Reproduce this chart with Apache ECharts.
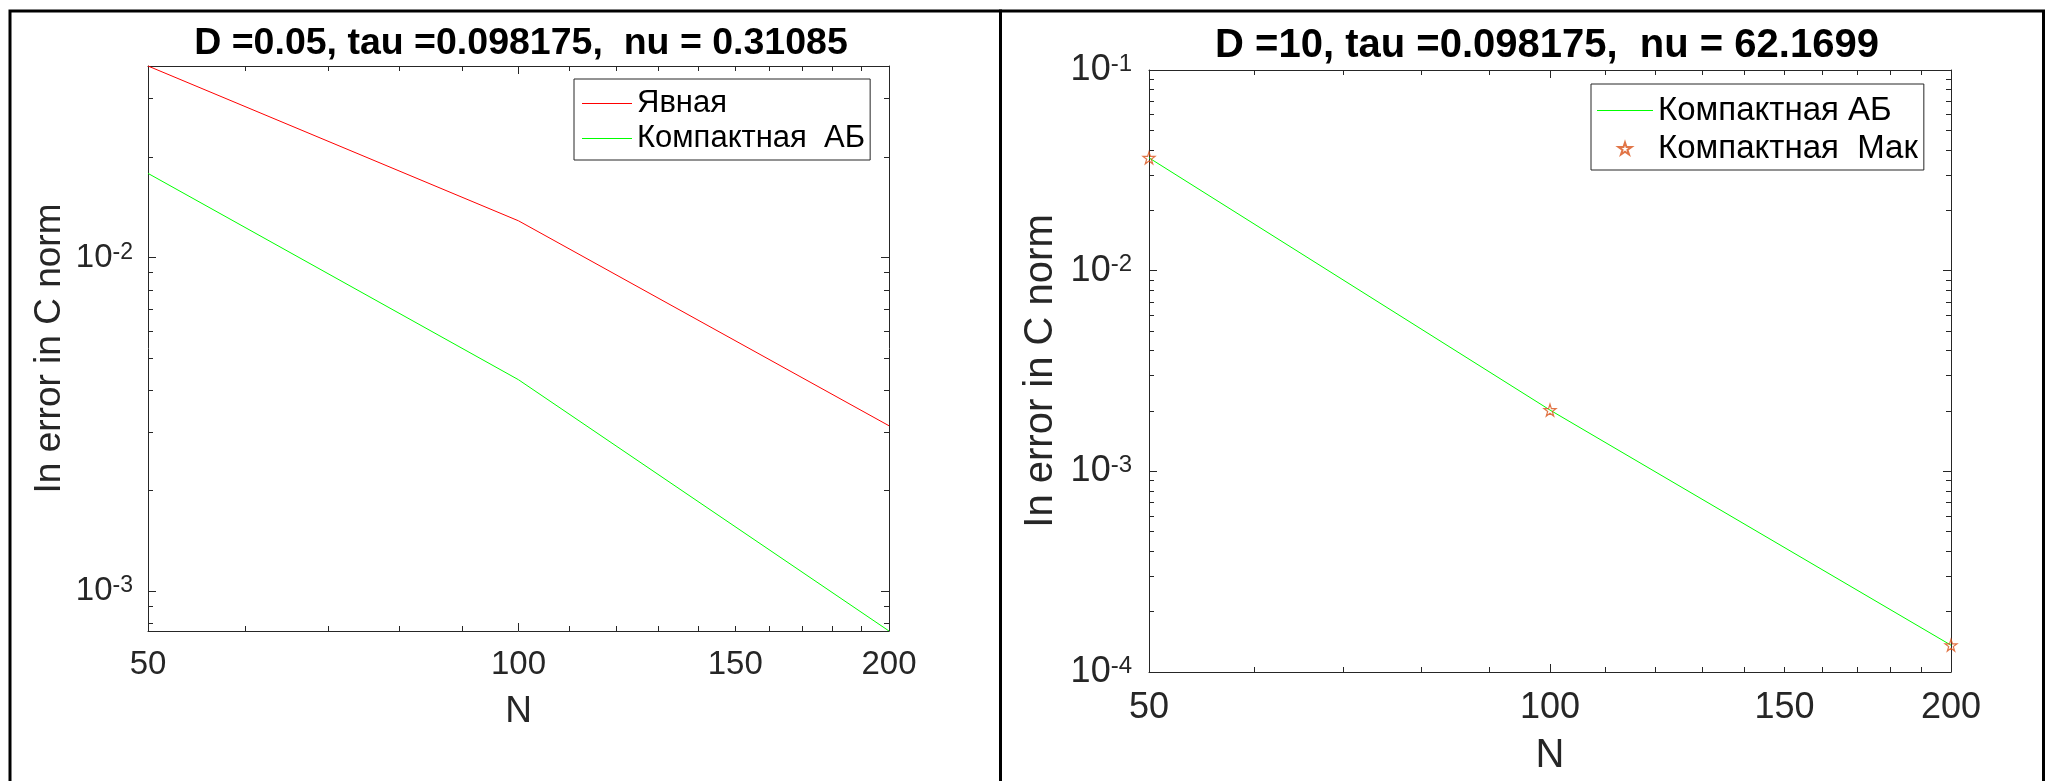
<!DOCTYPE html>
<html><head><meta charset="utf-8">
<script src="https://cdn.jsdelivr.net/npm/echarts@6/dist/echarts.min.js"></script>
<style>html,body{margin:0;padding:0;background:#fff}#c{width:2051px;height:781px}</style>
</head><body><div id="c"></div>
<script>
// ---- data ----
const N = [50, 100, 200];
const leftExplicit = [0.0375, 0.01288, 0.00313];
const leftCompactAB = [0.01787, 0.0043, 0.000759];
const rightCompactAB = [0.0365, 0.00202, 0.000136];
const rightCompactMak = [0.0365, 0.00202, 0.000136];
const xTickLabels = [50, 100, 150, 200];
const xMajorTicks = [100];
const xMinorTicks = [60, 70, 80, 90, 110, 120, 130, 140, 150, 160, 170, 180, 190];
const leftYLabels = [0.001, 0.01];
const leftYMinor = [0.0008, 0.0009, 0.002, 0.003, 0.004, 0.005, 0.006, 0.007, 0.008, 0.009, 0.02, 0.03];
const rightYLabels = [0.0001, 0.001, 0.01, 0.1];
const rightYMinor = [0.0002, 0.0003, 0.0004, 0.0005, 0.0006, 0.0007, 0.0008, 0.0009,
                     0.002, 0.003, 0.004, 0.005, 0.006, 0.007, 0.008, 0.009,
                     0.02, 0.03, 0.04, 0.05, 0.06, 0.07, 0.08, 0.09];
const titles = ['D =0.05, tau =0.098175,  nu = 0.31085', 'D =10, tau =0.098175,  nu = 62.1699'];
const yName = 'In error in C norm';
const xName = 'N';
const namesLeft = ['Явная', 'Компактная  АБ'];
const namesRight = ['Компактная АБ', 'Компактная  Мак'];

// ---- styling ----
const FONT = '"Liberation Sans", Arial, Helvetica, sans-serif';
const AX = '#262626';
const STAR = 'path://M50,0 L61.8,35.4 L100,35.4 L69.1,57.3 L80.9,92.7 L50,70.8 L19.1,92.7 L30.9,57.3 L0,35.4 L38.2,35.4 Z';
const LINEICON = 'path://M0,0 L100,0 L100,2 L0,2 Z';

function powLabel(fs, es) {
  return {
    formatter: v => '{b|10}{s|' + Math.round(Math.log10(v)) + '}',
    rich: {
      b: {fontSize: fs, fontFamily: FONT, color: AX, lineHeight: fs, padding: [10, 0, 0, 0], verticalAlign: 'bottom'},
      s: {fontSize: es, fontFamily: FONT, color: AX, lineHeight: es, verticalAlign: 'top'}
    }
  };
}

function xAxes(g, p) {
  const base = {type: 'log', gridIndex: g, min: N[0], max: N[N.length - 1], splitLine: {show: false}};
  const line = {show: true, onZero: false, lineStyle: {color: AX, width: 1}};
  return [
    Object.assign({}, base, {position: 'bottom', axisLine: line,
      axisTick: {show: true, inside: true, length: 8, customValues: xMajorTicks, lineStyle: {color: AX}},
      axisLabel: {show: true, customValues: xTickLabels, fontSize: p.tick, fontFamily: FONT, color: AX, margin: p.xMargin},
      name: xName, nameLocation: 'middle', nameGap: p.xNameGap,
      nameTextStyle: {fontSize: p.name, fontFamily: FONT, color: AX}}),
    Object.assign({}, base, {position: 'bottom', axisLine: {show: false},
      axisTick: {show: true, inside: true, length: 5, customValues: xMinorTicks, lineStyle: {color: AX}},
      axisLabel: {show: false}}),
    Object.assign({}, base, {position: 'top', axisLine: line,
      axisTick: {show: true, inside: true, length: 8, customValues: xMajorTicks, lineStyle: {color: AX}},
      axisLabel: {show: false}}),
    Object.assign({}, base, {position: 'top', axisLine: {show: false},
      axisTick: {show: true, inside: true, length: 5, customValues: xMinorTicks, lineStyle: {color: AX}},
      axisLabel: {show: false}})
  ];
}

function yAxes(g, p, labels, minor, mn, mx) {
  const base = {type: 'log', gridIndex: g, min: mn, max: mx, splitLine: {show: false}};
  const line = {show: true, onZero: false, lineStyle: {color: AX, width: 1}};
  return [
    Object.assign({}, base, {position: 'left', axisLine: line,
      axisTick: {show: true, inside: true, length: 8, customValues: labels, lineStyle: {color: AX}},
      axisLabel: Object.assign({show: true, customValues: labels, margin: p.yMargin}, powLabel(p.tick, p.exp)),
      name: yName, nameLocation: 'middle', nameGap: p.yNameGap,
      nameTextStyle: {fontSize: p.name, fontFamily: FONT, color: AX}}),
    Object.assign({}, base, {position: 'left', axisLine: {show: false},
      axisTick: {show: true, inside: true, length: 5, customValues: minor, lineStyle: {color: AX}},
      axisLabel: {show: false}}),
    Object.assign({}, base, {position: 'right', axisLine: line,
      axisTick: {show: true, inside: true, length: 8, customValues: labels, lineStyle: {color: AX}},
      axisLabel: {show: false}}),
    Object.assign({}, base, {position: 'right', axisLine: {show: false},
      axisTick: {show: true, inside: true, length: 5, customValues: minor, lineStyle: {color: AX}},
      axisLabel: {show: false}})
  ];
}

const PL = {tick: 33, exp: 23, name: 37, xMargin: 17, xNameGap: 62, yMargin: 15, yNameGap: 80};
const PR = {tick: 36, exp: 24, name: 40, xMargin: 18, xNameGap: 64, yMargin: 17, yNameGap: 88};

const pairs = a => N.map((n, i) => [n, a[i]]);
const lMin = Math.min(...leftCompactAB, ...leftExplicit);
const lMax = Math.max(...leftCompactAB, ...leftExplicit);

const option = {
  backgroundColor: '#ffffff',
  animation: false,
  textStyle: {fontFamily: FONT},
  title: [
    {text: titles[0], left: 516, top: 20, textAlign: 'center',
     textStyle: {fontSize: 37.5, fontWeight: 'bold', color: '#000', fontFamily: FONT}},
    {text: titles[1], left: 1542, top: 21, textAlign: 'center',
     textStyle: {fontSize: 40, fontWeight: 'bold', color: '#000', fontFamily: FONT}}
  ],
  grid: [
    {left: 148, top: 66, width: 741, height: 565, containLabel: false},
    {left: 1149, top: 70, width: 802, height: 612, containLabel: false}
  ],
  xAxis: [...xAxes(0, PL), ...xAxes(1, PR)],
  yAxis: [...yAxes(0, PL, leftYLabels, leftYMinor, lMin, lMax),
          ...yAxes(1, PR, rightYLabels, rightYMinor, 0.0001, 0.1)],
  legend: [
    {data: namesLeft.map(n => ({name: n, icon: LINEICON})), orient: 'vertical', left: 574, top: 79,
     padding: [9, 5, 6, 8], itemGap: 4, itemWidth: 50, itemHeight: 12,
     backgroundColor: '#fff', borderColor: AX, borderWidth: 1,
     textStyle: {fontSize: 31, color: '#000', fontFamily: FONT}},
    {data: [{name: namesRight[0], icon: LINEICON}, {name: namesRight[1]}],
     orient: 'vertical', left: 1591, top: 84,
     padding: [10, 6, 5, 6], itemGap: 5, itemWidth: 56, itemHeight: 12,
     backgroundColor: '#fff', borderColor: AX, borderWidth: 1,
     textStyle: {fontSize: 33, color: '#000', fontFamily: FONT}}
  ],
  series: [
    {name: namesLeft[0], type: 'line', xAxisIndex: 0, yAxisIndex: 0, data: pairs(leftExplicit),
     showSymbol: false, symbol: 'none', lineStyle: {color: '#ff0000', width: 1}, itemStyle: {color: '#ff0000'}},
    {name: namesLeft[1], type: 'line', xAxisIndex: 0, yAxisIndex: 0, data: pairs(leftCompactAB),
     showSymbol: false, symbol: 'none', lineStyle: {color: '#00ff00', width: 1}, itemStyle: {color: '#00ff00'}},
    {name: namesRight[0], type: 'line', xAxisIndex: 4, yAxisIndex: 4, data: pairs(rightCompactAB),
     showSymbol: false, symbol: 'none', lineStyle: {color: '#00ff00', width: 1}, itemStyle: {color: '#00ff00'}},
    {name: namesRight[1], type: 'scatter', xAxisIndex: 4, yAxisIndex: 4, data: pairs(rightCompactMak),
     symbol: STAR, symbolSize: 12, z: 5,
     itemStyle: {color: 'rgba(255,255,255,0)', borderColor: '#D95319', borderWidth: 1.2}}
  ],
  graphic: [
    {type: 'rect', shape: {x: 10, y: 11, width: 990.5, height: 800}, silent: true,
     style: {fill: 'none', stroke: '#000', lineWidth: 3}},
    {type: 'rect', shape: {x: 1000.5, y: 11, width: 1043, height: 800}, silent: true,
     style: {fill: 'none', stroke: '#000', lineWidth: 3}}
  ]
};

const chart = echarts.init(document.getElementById('c'), null, {renderer: 'canvas'});
chart.setOption(option);
</script>
</body></html>
